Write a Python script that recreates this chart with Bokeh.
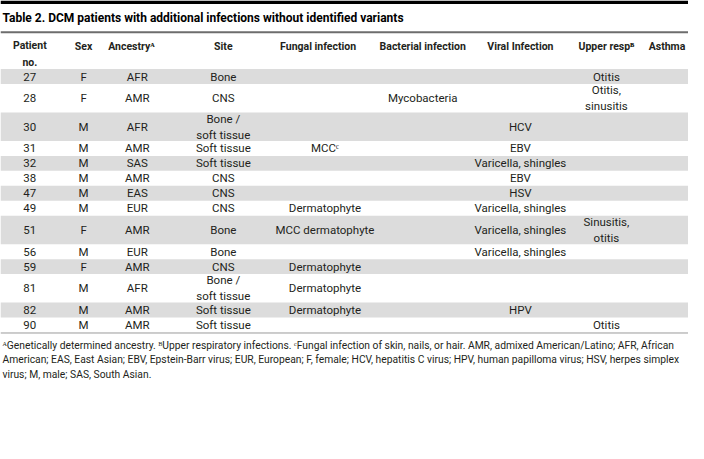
from bokeh.plotting import figure
from bokeh.models import ColumnDataSource, Range1d, Span, BoxAnnotation
from bokeh.core.properties import value
from bokeh.embed import file_html
from bokeh.resources import INLINE

# ---------------- data ----------------
title = "Table 2. DCM patients with additional infections without identified variants"
headers = ["Patient\nno.", "Sex", "Ancestryᴬ", "Site", "Fungal infection",
           "Bacterial infection", "Viral Infection", "Upper respᴮ", "Asthma"]
patient = ["27", "28", "30", "31", "32", "38", "47", "49", "51", "56", "59", "81", "82", "90"]
sex = ["F", "F", "M", "M", "M", "M", "M", "M", "F", "M", "F", "M", "M", "M"]
ancestry = ["AFR", "AMR", "AFR", "AMR", "SAS", "AMR", "EAS", "EUR", "AMR", "EUR", "AMR", "AFR", "AMR", "AMR"]
site = ["Bone", "CNS", "Bone /\nsoft tissue", "Soft tissue", "Soft tissue", "CNS", "CNS", "CNS",
        "Bone", "Bone", "CNS", "Bone /\nsoft tissue", "Soft tissue", "Soft tissue"]
fungal = ["", "", "", "MCCᶜ", "", "", "", "Dermatophyte", "MCC dermatophyte", "",
          "Dermatophyte", "Dermatophyte", "Dermatophyte", ""]
bacterial = ["", "Mycobacteria", "", "", "", "", "", "", "", "", "", "", "", ""]
viral = ["", "", "HCV", "EBV", "Varicella, shingles", "EBV", "HSV", "Varicella, shingles",
         "Varicella, shingles", "Varicella, shingles", "", "", "HPV", ""]
upper_resp = ["Otitis", "Otitis,\nsinusitis", "", "", "", "", "", "", "Sinusitis,\notitis",
              "", "", "", "", "Otitis"]
asthma = ["", "", "", "", "", "", "", "", "", "", "", "", "", ""]
footnotes = [
    "ᴬGenetically determined ancestry. ᴮUpper respiratory infections. ᶜFungal infection of skin, nails, or hair. AMR, admixed American/Latino; AFR, African",
    "American; EAS, East Asian; EBV, Epstein-Barr virus; EUR, European; F, female; HCV, hepatitis C virus; HPV, human papilloma virus; HSV, herpes simplex",
    "virus; M, male; SAS, South Asian.",
]

columns = [patient, sex, ancestry, site, fungal, bacterial, viral, upper_resp, asthma]

# ---------------- layout ----------------
W, H = 704, 459
header_x = [30, 85, 134, 228, 325, 432, 532, 620, 682]
col_x = [30, 85, 140, 228, 332, 432, 532, 620, 682]
FONT = "Roboto"
TEXT = "#231f20"

p = figure(width=688, height=443, x_range=Range1d(0, W), y_range=Range1d(H, 0),
           output_backend="svg", toolbar_location=None, min_border=0,
           x_axis_type=None, y_axis_type=None)
p.outline_line_color = None
p.background_fill_color = "white"
p.border_fill_color = "white"

# top black bar and rules
p.add_layout(BoxAnnotation(top=0, bottom=3.5, fill_color="black", fill_alpha=1, line_color=None))
p.add_layout(Span(location=33, dimension="width", line_color="#6d6d6d", line_width=2))

# title
p.text(x=[2], y=[18], text=[title], text_align="left", text_baseline="middle",
       text_font=value(FONT), text_font_style="bold", text_font_size="12px", text_color="black")

# header
p.text(x=header_x, y=[55] + [48] * 8, text=headers, text_align="center", text_baseline="middle",
       text_font=value(FONT), text_font_style="bold", text_font_size="10.5px",
       text_color=TEXT, text_line_height=1.3)

# rows
n = len(patient)
nlines = [max(c[i].count("\n") + 1 for c in columns) for i in range(n)]
tops, bottoms, centers = [], [], []
y = 71.0
for i in range(n):
    h = 15.5 + 14.0 * (nlines[i] - 1)
    tops.append(y)
    bottoms.append(y + h)
    centers.append(y + h / 2)
    y += h

gray_idx = [i for i in range(n) if i % 2 == 0]
p.quad(left=0, right=W, top=[tops[i] for i in gray_idx], bottom=[bottoms[i] for i in gray_idx],
       fill_color="#dcdcdc", line_color=None)
p.add_layout(Span(location=bottoms[-1] + 0.5, dimension="width", line_color="#9a9a9a", line_width=1))

cx, cy, ct = [], [], []
for j, col in enumerate(columns):
    for i, t in enumerate(col):
        if t:
            cx.append(col_x[j])
            cy.append(centers[i])
            ct.append(t)
src = ColumnDataSource(dict(x=cx, y=cy, text=ct))
p.text(x="x", y="y", text="text", source=src, text_align="center", text_baseline="middle",
       text_font=value(FONT), text_font_size="11.5px", text_color=TEXT, text_line_height=1.15)

# footnotes
p.text(x=[2, 2, 2], y=[357, 372, 387], text=footnotes, text_align="left", text_baseline="middle",
       text_font=value(FONT), text_font_size="10.3px", text_color=TEXT)

open("out.html", "w").write(file_html(p, INLINE))
